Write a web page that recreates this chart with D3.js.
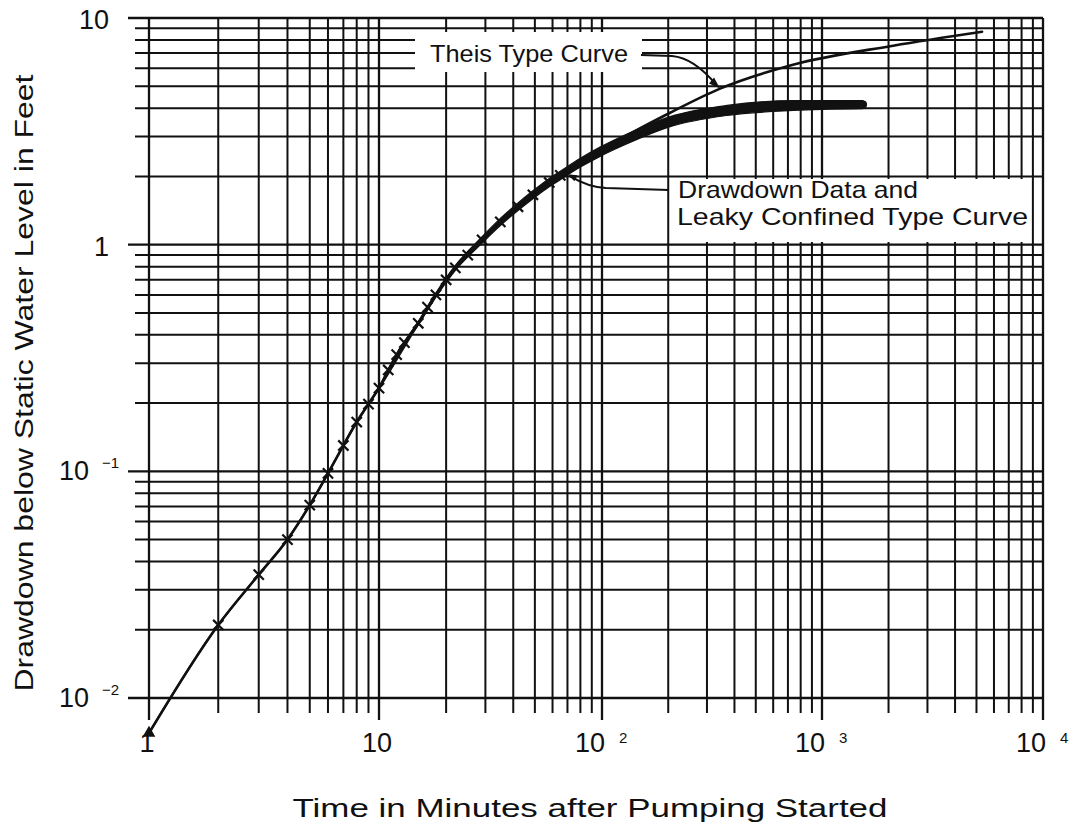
<!DOCTYPE html>
<html>
<head>
<meta charset="utf-8">
<script src="https://cdn.jsdelivr.net/npm/d3@7/dist/d3.min.js"></script>
<style>
  html, body { margin: 0; padding: 0; background: #fff; }
  svg text { font-family: "Liberation Sans", Arial, Helvetica, sans-serif; fill: #111; }
</style>
</head>
<body>
<svg id="chart" width="1077" height="827"></svg>
<script>
// ---------- data ----------
// drawdown data points with markers (time in minutes, drawdown in feet)
const dataT = [1, 2, 3, 4, 5, 6, 7, 8, 9, 10, 11, 12, 13, 15, 16.5, 18, 20, 22, 25, 29, 35, 42, 49, 58, 65];
const dataS = [0.0070, 0.021, 0.035, 0.050, 0.071, 0.098, 0.130, 0.165, 0.198, 0.233, 0.28, 0.327, 0.37, 0.45, 0.53, 0.60, 0.70, 0.79, 0.90, 1.05, 1.26, 1.47, 1.66, 1.88, 2.02];

// leaky confined type curve / dense drawdown data band
const leakyT = [10, 12, 15, 18, 22, 29, 35, 42, 49, 58, 65, 80, 98, 130, 204, 370, 738, 1534];
const leakyS = [0.233, 0.327, 0.45, 0.60, 0.79, 1.05, 1.26, 1.47, 1.66, 1.88, 2.02, 2.30, 2.57, 2.93, 3.49, 3.91, 4.11, 4.15];

// Theis type curve
const theisT = [1, 2, 3, 4, 5, 6, 8, 10, 15, 20, 29, 42, 65, 98, 130, 204, 344, 738, 2100, 5300];
const theisS = [0.0070, 0.021, 0.035, 0.050, 0.071, 0.098, 0.165, 0.233, 0.45, 0.70, 1.05, 1.47, 2.02, 2.57, 3.03, 3.82, 4.88, 6.22, 7.55, 8.7];

// axis labels
const xLabelValues = [1, 10, 100, 1000, 10000];
const xLabelBase   = ["1", "10", "10", "10", "10"];
const xLabelExp    = ["", "", "2", "3", "4"];
const yLabelValues = [10, 1, 0.1, 0.01];
const yLabelBase   = ["10", "1", "10", "10"];
const yLabelExp    = ["", "", "\u22121", "\u22122"];

const xTitle = "Time in Minutes after Pumping Started";
const yTitle = "Drawdown below Static Water Level in Feet";
const theisLabel = "Theis Type Curve";
const leakyLabel = ["Drawdown Data and", "Leaky Confined Type Curve"];

// ---------- scales ----------
const x = d3.scaleLog().domain([1, 10, 100, 1000, 10000]).range([149, 379, 602, 822, 1043]);
const y = d3.scaleLog().domain([0.01, 10]).range([698, 18]);

const svg = d3.select("#chart");
const ink = "#111";

// ---------- grid ----------
const xGrid = [];
[1, 10, 100, 1000].forEach(d => { for (let m = 1; m <= 9; m++) xGrid.push(d * m); });
xGrid.push(10000);
const yGrid = [];
[0.01, 0.1, 1].forEach(d => { for (let m = 1; m <= 9; m++) yGrid.push(+(d * m).toPrecision(3)); });
yGrid.push(10);
const isMajor = v => Math.abs(Math.log10(v) - Math.round(Math.log10(v))) < 1e-9;

const grid = svg.append("g").attr("stroke", ink).attr("fill", "none");
grid.selectAll("line.v").data(xGrid).join("line")
  .attr("class", "v")
  .attr("x1", d => x(d)).attr("x2", d => x(d))
  .attr("y1", y(10)).attr("y2", d => isMajor(d) ? 720 : 713)
  .attr("stroke-width", d => isMajor(d) ? 2.3 : 2);
grid.selectAll("line.h").data(yGrid).join("line")
  .attr("class", "h")
  .attr("y1", d => y(d)).attr("y2", d => y(d))
  .attr("x1", d => isMajor(d) ? 128 : 135).attr("x2", x(10000))
  .attr("stroke-width", d => isMajor(d) ? 2.3 : 2);

// ---------- white boxes behind annotations ----------
svg.append("rect").attr("x", 415).attr("y", 32).attr("width", 227).attr("height", 40).attr("fill", "#fff");
svg.append("rect").attr("x", 672).attr("y", 179).attr("width", 359).attr("height", 63).attr("fill", "#fff");

// ---------- curves ----------
const theisPts = theisT.map((t, i) => [x(t), y(theisS[i])]);
svg.append("path")
  .attr("d", d3.line().curve(d3.curveMonotoneX)(theisPts))
  .attr("fill", "none").attr("stroke", ink).attr("stroke-width", 2.6).attr("stroke-linecap", "round");

const dataPts = dataT.map((t, i) => [x(t), y(dataS[i])]);
svg.append("path")
  .attr("d", d3.line().curve(d3.curveMonotoneX)(dataPts))
  .attr("fill", "none").attr("stroke", ink).attr("stroke-width", 2);

// thick band of dense data / leaky type curve
const halfW = d3.scaleLog().domain([10, 20, 40, 70, 150, 700, 1534]).range([1.2, 2.4, 3.8, 4.3, 5, 5, 4]).clamp(true);
const leaky = leakyT.map((t, i) => ({ t, s: leakyS[i] }));
svg.append("path")
  .attr("d", d3.area().curve(d3.curveMonotoneX)
    .x(d => x(d.t))
    .y0(d => y(d.s) - halfW(d.t))
    .y1(d => y(d.s) + halfW(d.t))(leaky))
  .attr("fill", ink).attr("stroke", ink).attr("stroke-width", 1.2).attr("stroke-linejoin", "round");
const last = leaky[leaky.length - 1];
svg.append("circle").attr("cx", x(last.t)).attr("cy", y(last.s)).attr("r", halfW(last.t)).attr("fill", ink);

// markers
svg.append("g").selectAll("path").data(dataT.slice(1).map((t, i) => [t, dataS[i + 1]])).join("path")
  .attr("transform", d => `translate(${x(d[0])},${y(d[1])})`)
  .attr("d", d3.symbol(d3.symbolTimes, 70)())
  .attr("fill", "none").attr("stroke", ink).attr("stroke-width", 2.2);
svg.append("path")
  .attr("transform", `translate(${x(dataT[0])},${y(dataS[0])})`)
  .attr("d", d3.symbol(d3.symbolTriangle, 70)())
  .attr("fill", ink);

// ---------- annotations ----------
svg.append("text").attr("x", 430).attr("y", 62).attr("font-size", 24)
  .attr("textLength", 198).attr("lengthAdjust", "spacingAndGlyphs").text(theisLabel);
svg.append("text").attr("x", 678).attr("y", 198).attr("font-size", 24)
  .attr("textLength", 240).attr("lengthAdjust", "spacingAndGlyphs").text(leakyLabel[0]);
svg.append("text").attr("x", 677).attr("y", 225).attr("font-size", 24)
  .attr("textLength", 351).attr("lengthAdjust", "spacingAndGlyphs").text(leakyLabel[1]);

// leader to Theis curve
const tx = x(344), ty = y(4.88);
svg.append("path")
  .attr("d", `M641,55 L672,56 Q694,58 ${tx - 4},${ty - 4}`)
  .attr("fill", "none").attr("stroke", ink).attr("stroke-width", 2);
svg.append("path")
  .attr("d", `M${tx},${ty} l-11,-5 l5,-6 z`).attr("fill", ink);

// leader to leaky curve
const lx = x(70), ly = y(2.15) + 5;
svg.append("path")
  .attr("d", `M669,190 L606,188 Q588,187 ${lx + 3},${ly + 2}`)
  .attr("fill", "none").attr("stroke", ink).attr("stroke-width", 2);
svg.append("path")
  .attr("d", `M${lx},${ly} l10,1 l-3,6 z`).attr("fill", ink);

// ---------- tick labels ----------
const xl = svg.append("g");
xLabelValues.forEach((v, i) => {
  if (xLabelExp[i] === "") {
    xl.append("text").attr("x", x(v) - 2).attr("y", 752).attr("font-size", 27)
      .attr("text-anchor", "middle").text(xLabelBase[i]);
  } else {
    xl.append("text").attr("x", x(v) + 3).attr("y", 752).attr("font-size", 27)
      .attr("text-anchor", "end").text(xLabelBase[i]);
    xl.append("text").attr("x", x(v) + 17).attr("y", 743).attr("font-size", 15)
      .text(xLabelExp[i]);
  }
});
const yl = svg.append("g");
yLabelValues.forEach((v, i) => {
  if (yLabelExp[i] === "") {
    yl.append("text").attr("x", 109).attr("y", y(v) + 11).attr("font-size", 27)
      .attr("text-anchor", "end").text(yLabelBase[i]);
  } else {
    yl.append("text").attr("x", 89).attr("y", y(v) + 9).attr("font-size", 27)
      .attr("text-anchor", "end").text(yLabelBase[i]);
    yl.append("text").attr("x", 102).attr("y", y(v) - 3).attr("font-size", 15)
      .text(yLabelExp[i]);
  }
});

// ---------- axis titles ----------
svg.append("text").attr("x", 590).attr("y", 817).attr("font-size", 26)
  .attr("text-anchor", "middle").attr("textLength", 595).attr("lengthAdjust", "spacingAndGlyphs")
  .text(xTitle);
svg.append("text").attr("transform", "translate(33,383) rotate(-90)").attr("font-size", 26)
  .attr("text-anchor", "middle").attr("textLength", 617).attr("lengthAdjust", "spacingAndGlyphs")
  .text(yTitle);
</script>
</body>
</html>
